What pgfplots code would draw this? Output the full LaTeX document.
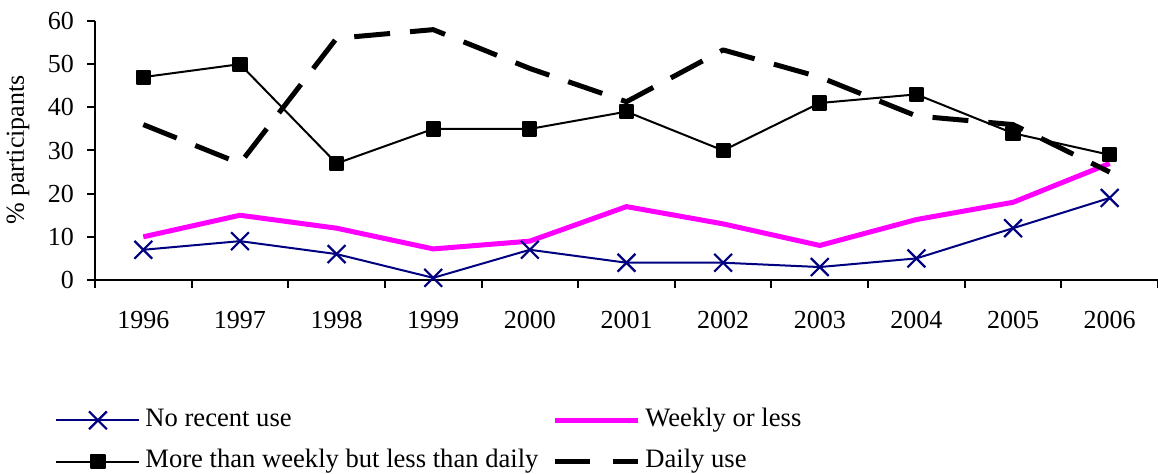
\documentclass[border=0pt]{standalone}
\usepackage{fontspec}
\setmainfont{Liberation Serif}
\usepackage{pgfplots}
\pgfplotsset{compat=1.18}
\definecolor{navyc}{RGB}{0,0,128}
\definecolor{magc}{RGB}{255,0,255}
\begin{document}
\begin{tikzpicture}
\begin{axis}[
 scale only axis, width=531.5pt, height=129.5pt,
 xmin=1995.5, xmax=2006.5, ymin=0, ymax=60,
 clip=false,
 axis x line*=bottom, axis y line*=left,
 axis line style={line width=1pt, -},
 every tick/.style={black, line width=1pt},
 tick align=outside,
 xtick={1996,1997,1998,1999,2000,2001,2002,2003,2004,2005,2006},
 xticklabels={1996,1997,1998,1999,2000,2001,2002,2003,2004,2005,2006},
 major x tick style={draw=none},
 minor xtick={1995.5,1996.5,1997.5,1998.5,1999.5,2000.5,2001.5,2002.5,2003.5,2004.5,2005.5,2006.5},
 minor tick length=4pt,
 major tick length=4pt,
 ytick={0,10,20,30,40,50,60},
 /pgf/number format/assume math mode=true,
 tick label style={font=\fontsize{13}{15.6}\selectfont},
 xticklabel style={yshift=-8pt},
 yticklabel style={xshift=-3pt},
 ylabel={\% participants},
 every axis y label/.style={at={(axis description cs:-0.0724,0.502)}, rotate=90, anchor=center, font=\fontsize{13}{15.6}\selectfont},
 legend columns=2,
 legend cell align=left,
 legend style={draw=none, fill=none, inner sep=0pt, at={(rel axis cs:-0.0376,-0.494)}, anchor=north west,
   font=\fontsize{13.3}{15}\selectfont, row sep=8.75pt,
   nodes={inner sep=0pt, text height=9pt, text depth=3pt},
   /tikz/every odd column/.append style={column sep=2.5pt},
   /tikz/every even column/.append style={column sep=7pt}},
 legend image code/.code={\draw[mark repeat=2,mark phase=2,#1] plot coordinates {(0pt,0pt) (20.75pt,0pt) (41.5pt,0pt)};},
]
\addplot[navyc, line width=1pt, mark=x, mark size=6.3pt, mark options={line width=1.1pt, solid}, line join=round] coordinates {
(1996,7) (1997,9) (1998,6) (1999,0.5) (2000,7) (2001,4) (2002,4) (2003,3) (2004,5) (2005,12) (2006,19)};
\addlegendentry{No recent use}
\addplot[magc, line width=2.5pt, line join=round] coordinates {
(1996,10) (1997,15) (1998,12) (1999,7.2) (2000,9) (2001,17) (2002,13) (2003,8) (2004,14) (2005,18) (2006,27)};
\addlegendentry{Weekly or less}
\addplot[black, line width=1pt, mark=square*, mark size=3.3pt, mark options={solid}, line join=round] coordinates {
(1996,47) (1997,50) (1998,27) (1999,35) (2000,35) (2001,39) (2002,30) (2003,41) (2004,43) (2005,34) (2006,29)};
\addlegendentry{More than weekly but less than daily}
\addplot[black, line width=2.5pt, dash pattern=on 18pt off 10pt, line join=round,
  legend image code/.code={\draw[black, line width=2.5pt] (0pt,0pt) -- (17.5pt,0pt) (29pt,0pt) -- (41.5pt,0pt);}] coordinates {
(1996,36) (1997,27) (1998,56) (1999,58) (2000,49) (2001,41.3) (2002,53.3) (2003,47) (2004,38) (2005,36) (2006,25)};
\addlegendentry{Daily use}
\coordinate (SW) at (rel axis cs:0,0);
\end{axis}
\pgfresetboundingbox
\path[use as bounding box] ([xshift=-47.5pt,yshift=-97pt]SW) rectangle ++(579pt,237pt);
\end{tikzpicture}
\end{document}
